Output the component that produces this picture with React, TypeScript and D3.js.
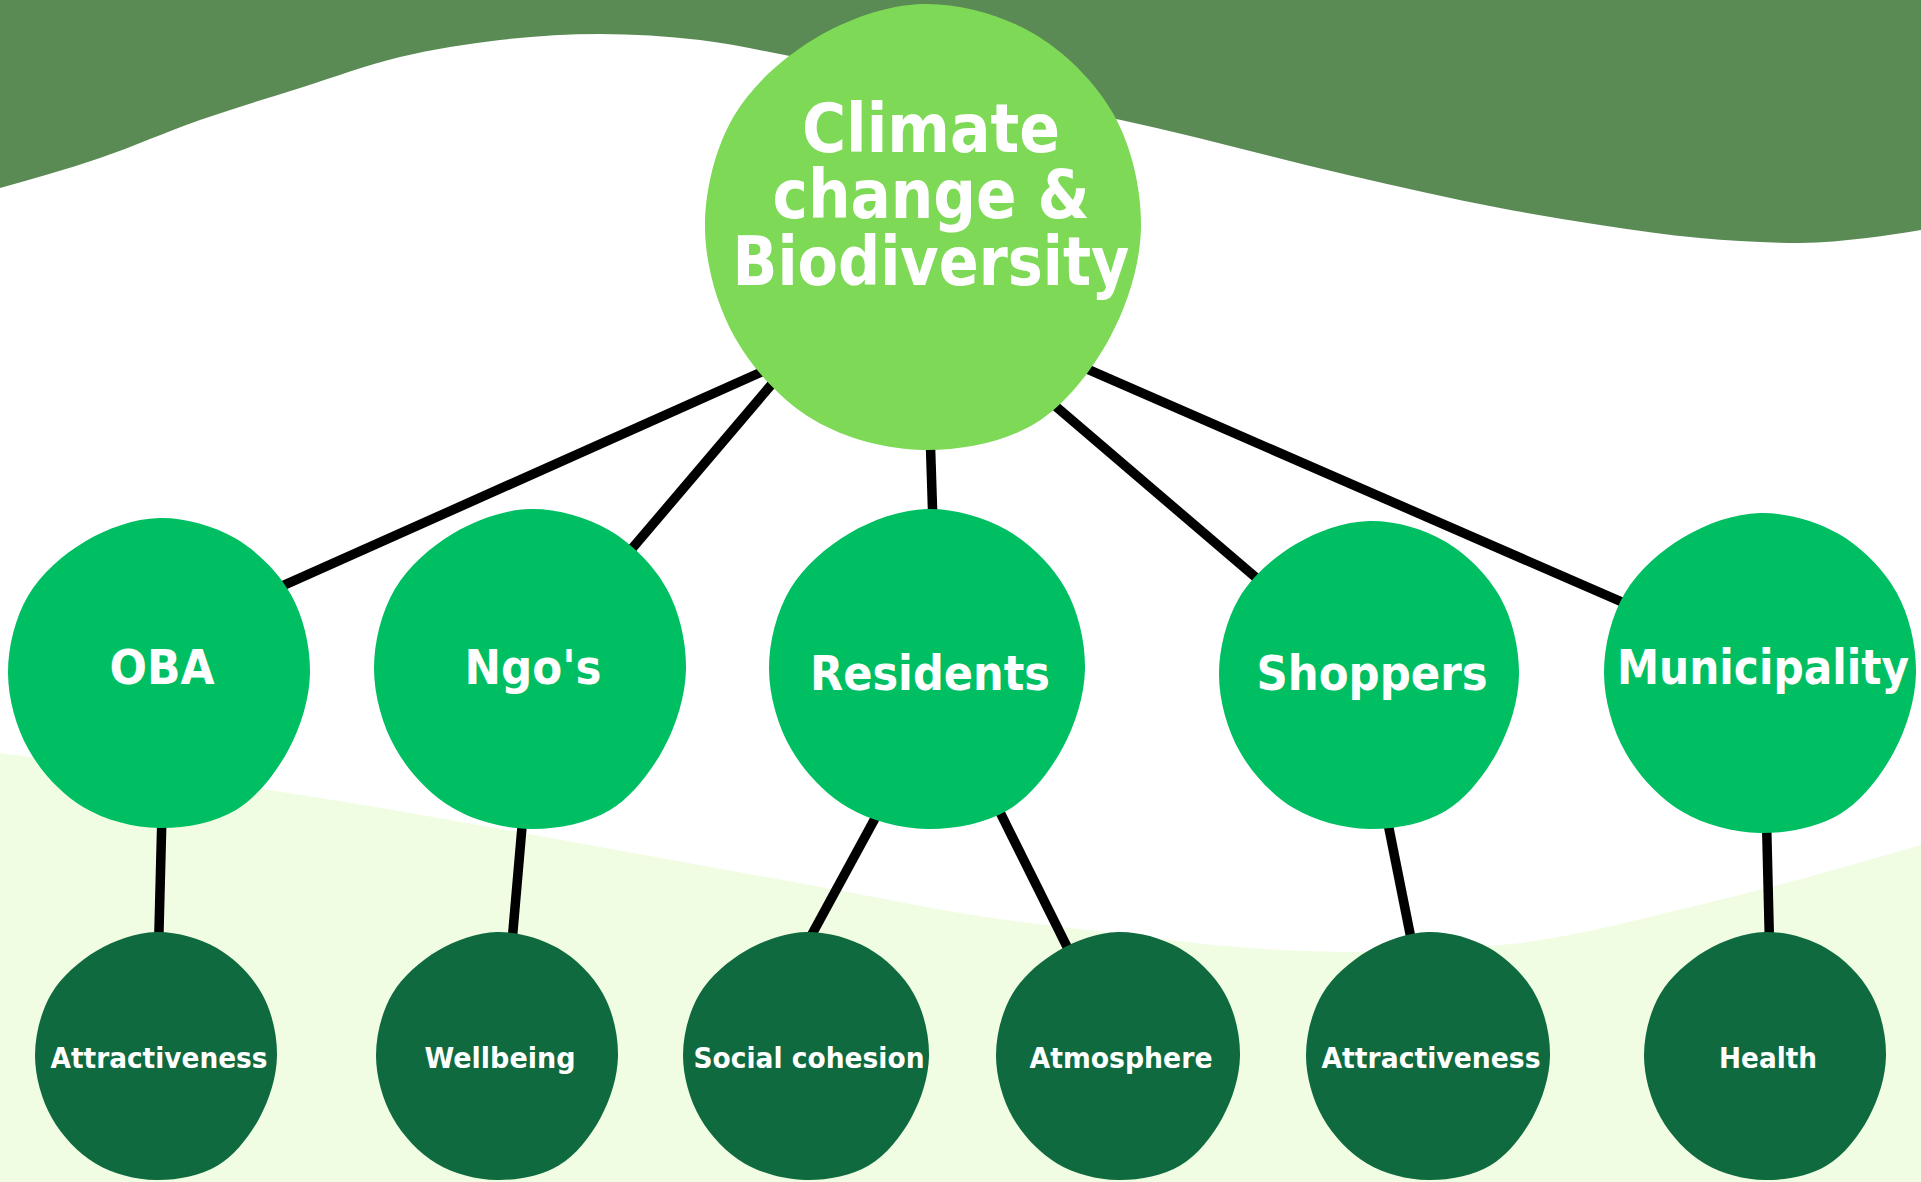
import * as d3 from "d3";

const W = 1921;
const H = 1182;

// labels
const rootLines = ["Climate", "change &", "Biodiversity"];
const groupLabels = ["OBA", "Ngo's", "Residents", "Shoppers", "Municipality"];
const themeLabels = ["Attractiveness", "Wellbeing", "Social cohesion", "Atmosphere", "Attractiveness", "Health"];
const themeParent = [0, 1, 2, 2, 3, 4];

// background wave outlines (reference pixel units)
const topWaveX = [0, 100, 200, 300, 400, 500, 600, 700, 800, 950, 1121, 1348, 1500, 1600, 1700, 1800, 1867, 1921];
const topWaveY = [188, 158, 120, 88, 57, 40, 34, 40, 58, 88, 120, 175, 208, 225, 238, 243, 238, 230];
const lowWaveX = [0, 333, 600, 853, 960, 1105, 1250, 1358, 1511, 1695, 1921];
const lowWaveY = [753, 800, 847, 893, 913, 932, 948, 952, 944, 906, 845];

// node layout
const rootBox = { cx: 923, cy: 227, rx: 218, ry: 223, lines: [-75, -9, 58], widths: [258, 317, 397] };
const groupBox = [
  { cx: 159, cy: 673, rx: 151, ry: 155, ty: 684, w: 105 },
  { cx: 530, cy: 669, rx: 156, ry: 160, ty: 684, w: 137 },
  { cx: 927, cy: 669, rx: 158, ry: 160, ty: 690, w: 240 },
  { cx: 1369, cy: 675, rx: 150, ry: 154, ty: 690, w: 231 },
  { cx: 1760, cy: 673, rx: 156, ry: 160, ty: 684, w: 292 },
];
const themeBox = [
  { cx: 156, cy: 1056, rx: 121, ry: 124, w: 217 },
  { cx: 497, cy: 1056, rx: 121, ry: 124, w: 151 },
  { cx: 806, cy: 1056, rx: 123, ry: 124, w: 231 },
  { cx: 1118, cy: 1056, rx: 122, ry: 124, w: 183 },
  { cx: 1428, cy: 1056, rx: 122, ry: 124, w: 219 },
  { cx: 1765, cy: 1056, rx: 121, ry: 124, w: 98 },
];

// link port angles (deg) on each blob
const rootPortOut = [139, 134.5, 88, 53, 40];
const groupPortIn = [-34.4, -49, -88, -140, -153.4];
const groupPortOut = [89, 93, 109.5, 62.7, 82.4, 87.5];
const themePortIn = [-88.6, -82.5, -86.7, -115.4, -98.5, -88];

// blob outline: radius factor every 30 deg, starting at 3 o'clock, clockwise
const blobRadius = [1.0, 0.99, 1.02, 1.0, 1.0, 0.995, 1.0, 1.0, 0.98, 1.0, 1.005, 1.01];

const x = d3.scaleLinear().domain([0, 1921]).range([0, W]);
const y = d3.scaleLinear().domain([0, 1182]).range([0, H]);

const COL = {
  band: "#5B8B55",
  pale: "#F1FDE3",
  root: "#7ED957",
  group: "#00BF63",
  theme: "#0F6B3F",
};

type Box = { cx: number; cy: number; rx: number; ry: number };

const blobLine = d3.line<[number, number]>().curve(d3.curveCatmullRomClosed.alpha(0.5));
function blobPath(b: Box) {
  const step = (2 * Math.PI) / blobRadius.length;
  return blobLine(
    blobRadius.map((r, i) => [
      x(b.cx + r * b.rx * Math.cos(i * step)),
      y(b.cy + r * b.ry * Math.sin(i * step)),
    ])
  );
}

function port(b: Box, deg: number): [number, number] {
  const a = (deg * Math.PI) / 180;
  return [x(b.cx + b.rx * Math.cos(a)), y(b.cy + b.ry * Math.sin(a))];
}

function link(a: [number, number], b: [number, number], ext = 16) {
  const dx = b[0] - a[0];
  const dy = b[1] - a[1];
  const len = Math.hypot(dx, dy);
  const ux = dx / len, uy = dy / len;
  return { x1: a[0] - ux * ext, y1: a[1] - uy * ext, x2: b[0] + ux * ext, y2: b[1] + uy * ext };
}

export default function App() {
  const topArea = d3.area<number>()
    .x((_, i) => x(topWaveX[i]))
    .y0(0)
    .y1((d) => y(d))
    .curve(d3.curveMonotoneX);
  const lowArea = d3.area<number>()
    .x((_, i) => x(lowWaveX[i]))
    .y0(H)
    .y1((d) => y(d))
    .curve(d3.curveMonotoneX);

  const links = [
    ...groupBox.map((g, i) => link(port(rootBox, rootPortOut[i]), port(g, groupPortIn[i]))),
    ...themeBox.map((t, i) => link(port(groupBox[themeParent[i]], groupPortOut[i]), port(t, themePortIn[i]))),
  ];

  const font = { fontFamily: "'DejaVu Sans', Verdana, sans-serif", fontWeight: 700 };

  return (
    <div style={{ position: "fixed", left: 0, top: 0, width: W, height: H, background: "#fff" }}>
      <svg width={W} height={H} viewBox={`0 0 ${W} ${H}`} style={{ display: "block" }}>
        <rect width={W} height={H} fill="#ffffff" />
        <path d={topArea(topWaveY) ?? ""} fill={COL.band} />
        <path d={lowArea(lowWaveY) ?? ""} fill={COL.pale} />

        {links.map((l, i) => (
          <line key={i} {...l} stroke="#000" strokeWidth={9.5} />
        ))}

        <path d={blobPath(rootBox) ?? ""} fill={COL.root} />
        {rootLines.map((t, i) => (
          <text
            key={t}
            x={x(rootBox.cx + 8)}
            y={y(rootBox.cy + rootBox.lines[i])}
            textAnchor="middle"
            fontSize={68}
            fill="#fff"
            textLength={rootBox.widths[i]}
            lengthAdjust="spacingAndGlyphs"
            style={font}
          >
            {t}
          </text>
        ))}

        {groupBox.map((g, i) => (
          <g key={i}>
            <path d={blobPath(g) ?? ""} fill={COL.group} />
            <text
              x={x(g.cx + 3)}
              y={y(g.ty)}
              textAnchor="middle"
              fontSize={48}
              fill="#fff"
              textLength={g.w}
              lengthAdjust="spacingAndGlyphs"
              style={font}
            >
              {groupLabels[i]}
            </text>
          </g>
        ))}

        {themeBox.map((t, i) => (
          <g key={i}>
            <path d={blobPath(t) ?? ""} fill={COL.theme} />
            <text
              x={x(t.cx + 3)}
              y={y(1068)}
              textAnchor="middle"
              fontSize={29}
              fill="#fff"
              textLength={t.w}
              lengthAdjust="spacingAndGlyphs"
              style={font}
            >
              {themeLabels[i]}
            </text>
          </g>
        ))}
      </svg>
    </div>
  );
}
